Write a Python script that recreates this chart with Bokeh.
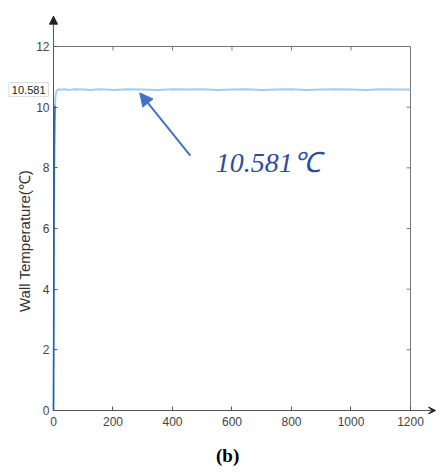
from bokeh.plotting import figure
from bokeh.models import Range1d, FixedTicker, Arrow, VeeHead, NormalHead, Label
from bokeh.embed import file_html
from bokeh.resources import INLINE

# data
time_s = [0, 1, 2, 3, 4, 5, 6, 8, 10, 13, 16, 20, 25, 30, 40, 50, 75, 100, 125, 150, 175, 200,
          250, 300, 350, 400, 450, 500, 550, 600, 650, 700, 750, 800, 850, 900, 950, 1000,
          1050, 1100, 1150, 1200]
wall_temp = [0.0, 3.0, 6.5, 8.6, 9.6, 10.05, 10.3, 10.45, 10.52, 10.56, 10.58, 10.59, 10.57, 10.58,
             10.59, 10.57, 10.59, 10.58, 10.57, 10.59, 10.58, 10.57, 10.59, 10.58, 10.57, 10.59,
             10.58, 10.59, 10.57, 10.58, 10.59, 10.57, 10.58, 10.59, 10.57, 10.58, 10.59, 10.58,
             10.57, 10.59, 10.58, 10.58]
x_ticks = [0, 200, 400, 600, 800, 1000, 1200]
y_ticks = [0, 2, 4, 6, 8, 10, 12]
steady_value = 10.581

p = figure(width=439, height=472, output_backend="svg", toolbar_location=None,
           x_range=Range1d(-178.15, 1290.8), y_range=Range1d(-2.044, 13.517),
           min_border_left=0, min_border_right=2, min_border_top=0, min_border_bottom=0)
p.outline_line_color = None
p.xgrid.visible = False
p.ygrid.visible = False
p.background_fill_color = "white"

for ax in (p.xaxis[0], p.yaxis[0]):
    ax.axis_line_color = "#555555"
    ax.major_tick_line_color = "#555555"
    ax.major_tick_in = 4
    ax.major_tick_out = 0
    ax.minor_tick_line_color = None
    ax.major_label_text_font = "Liberation Sans"
    ax.major_label_text_font_size = "12px"
    ax.major_label_text_color = "#444444"
p.xaxis.ticker = FixedTicker(ticks=x_ticks)
p.yaxis.ticker = FixedTicker(ticks=y_ticks)
p.xaxis.bounds = (0, 1250)
p.yaxis.bounds = (0, 12)
p.yaxis.fixed_location = 0
p.xaxis.fixed_location = 0
p.xaxis.major_label_standoff = 6
p.yaxis.major_label_standoff = 4

p.yaxis.axis_label = "Wall Temperature(℃)" + "\u00a0" * 6
p.yaxis.axis_label_text_font = "Liberation Sans"
p.yaxis.axis_label_text_font_style = "normal"
p.yaxis.axis_label_text_font_size = "15px"
p.yaxis.axis_label_text_color = "#333333"
p.yaxis.axis_label_standoff = 0

p.xaxis.axis_label = "(b)" + "\u00a0" * 5
p.xaxis.axis_label_text_font = "Liberation Serif"
p.xaxis.axis_label_text_font_style = "bold"
p.xaxis.axis_label_text_font_size = "19px"
p.xaxis.axis_label_text_color = "#000000"
p.xaxis.axis_label_standoff = 16

# box (top and right borders) with inward ticks
xmax, ymax = x_ticks[-1], y_ticks[-1]
p.line([x_ticks[0], xmax], [ymax, ymax], line_color="#777777", line_width=1)
p.line([xmax, xmax], [y_ticks[0], ymax], line_color="#777777", line_width=1)
p.segment(x0=x_ticks[1:-1], y0=[ymax] * 5, x1=x_ticks[1:-1], y1=[ymax - 0.13] * 5,
          line_color="#777777")
p.segment(x0=[xmax] * 5, y0=y_ticks[1:-1], x1=[xmax - 13] * 5, y1=y_ticks[1:-1],
          line_color="#777777")

# curve
p.line(time_s, wall_temp, line_color="#a3cdeb", line_width=2)
p.line(time_s[:6], wall_temp[:6], line_color="#2f6aa8", line_width=1.5)

# axis arrows (shaft extensions + heads)
p.add_layout(Arrow(x_start=0, y_start=12, x_end=0, y_end=13.0,
                   end=NormalHead(size=8, fill_color="#222222", line_color="#222222"),
                   line_color="#555555"))
p.add_layout(Arrow(x_start=1240, y_start=0, x_end=1284, y_end=0,
                   end=VeeHead(size=7, fill_color="#222222", line_color="#222222"),
                   line_color="#555555"))

# annotation arrow and label
p.add_layout(Arrow(x_start=460, y_start=8.4, x_end=290, y_end=10.47,
                   end=NormalHead(size=13, fill_color="#4472c4", line_color="#4472c4"),
                   line_color="#4472c4", line_width=2))
p.add_layout(Label(x=545, y=7.65, text=f"{steady_value}℃", text_font="Liberation Serif",
                   text_font_style="italic", text_font_size="28px", text_color="#2e4d9c"))

# value box at left of the axis
p.add_layout(Label(x=0, y=steady_value, x_offset=-5,
                   text=f"{steady_value}", level="overlay",
                   text_align="right", text_baseline="middle",
                   text_font="Liberation Sans", text_font_size="11px", text_color="#222222",
                   border_line_color="#dddddd", background_fill_color="white",
                   padding=3))

open("out.html", "w").write(file_html(p, INLINE))
